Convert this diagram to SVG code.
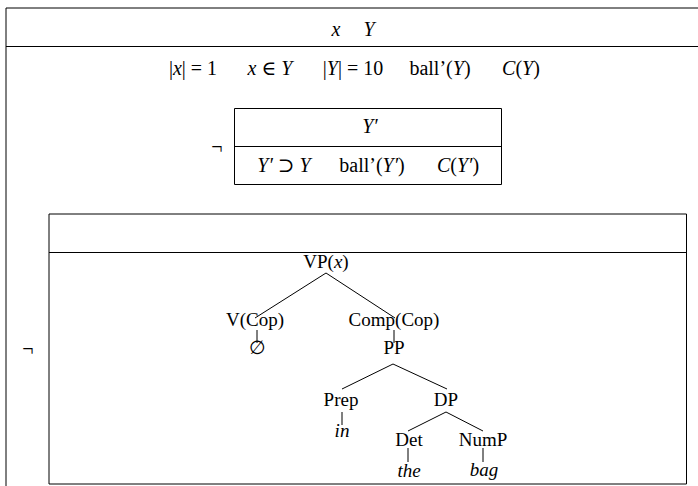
<svg xmlns="http://www.w3.org/2000/svg" width="698" height="486" viewBox="0 0 698 486">
<style>
.t{font-family:"Liberation Serif","DejaVu Serif",serif;font-size:20px;fill:#000;text-anchor:middle}
.n{font-family:"Liberation Serif","DejaVu Serif",serif;font-size:19px;fill:#000;text-anchor:middle}
.i{font-style:italic}
.b{fill:none;stroke:#000;stroke-width:1}
.e{fill:none;stroke:#000;stroke-width:1}
</style>
<rect width="698" height="486" fill="#fff"/>
<g id="outer">
<path class="b" d="M6 490 V8 H710 M6 46.5 H710"/>
<text class="t i" x="336" y="36">x</text>
<text class="t i" x="369" y="36">Y</text>
<text class="t" x="193" y="75">|<tspan class="i">x</tspan>| = 1</text>
<text class="t" x="270" y="75"><tspan class="i">x</tspan> ∈ <tspan class="i">Y</tspan></text>
<text class="t" x="353" y="75">|<tspan class="i">Y</tspan>| = 10</text>
<text class="t" x="440" y="75">ball’(<tspan class="i">Y</tspan>)</text>
<text class="t" x="521" y="75"><tspan class="i">C</tspan>(<tspan class="i">Y</tspan>)</text>
</g>
<g id="neg1">
<text class="t" x="217" y="154">¬</text>
</g>
<g id="box-yprime">
<path class="b" d="M234.5 108.5 H501.5 V184.5 H234.5 Z M234.5 146.5 H501.5"/>
<text class="t i" x="370" y="133">Y′</text>
<text class="t" x="284" y="172"><tspan class="i">Y′</tspan> ⊃ <tspan class="i">Y</tspan></text>
<text class="t" x="372" y="172">ball’(<tspan class="i">Y′</tspan>)</text>
<text class="t" x="458" y="172"><tspan class="i">C</tspan>(<tspan class="i">Y′</tspan>)</text>
</g>
<g id="neg2">
<text class="t" x="28" y="356">¬</text>
</g>
<g id="box-tree">
<path class="b" d="M49 484 V214 H686.5 V484 Z M49 252.5 H686.5"/>
</g>
<g id="connectors">
<path class="e" d="M326 273 L255 318 M326 273 L395 318 M257 330 V343 M394 330 V343 M393 364 L342 389 M393 364 L447 389 M342 412 V425 M446 412 L408 431 M446 412 L483 431 M408 448 V462 M483 448 V462"/>
</g>
<g id="n-vp"><text class="n" x="326" y="268">VP(<tspan class="i">x</tspan>)</text></g>
<g id="n-v"><text class="n" x="255" y="326">V(Cop)</text></g>
<g id="n-comp"><text class="n" x="394" y="326">Comp(Cop)</text></g>
<g id="n-empty"><text class="n" x="257" y="354">∅</text></g>
<g id="n-pp"><text class="n" x="394" y="354">PP</text></g>
<g id="n-prep"><text class="n" x="341" y="406">Prep</text></g>
<g id="n-dp"><text class="n" x="446" y="406">DP</text></g>
<g id="n-in"><text class="n i" x="342" y="437">in</text></g>
<g id="n-det"><text class="n" x="409" y="446">Det</text></g>
<g id="n-nump"><text class="n" x="483" y="446">NumP</text></g>
<g id="n-the"><text class="n i" x="409" y="477">the</text></g>
<g id="n-bag"><text class="n i" x="484" y="476">bag</text></g>
</svg>
